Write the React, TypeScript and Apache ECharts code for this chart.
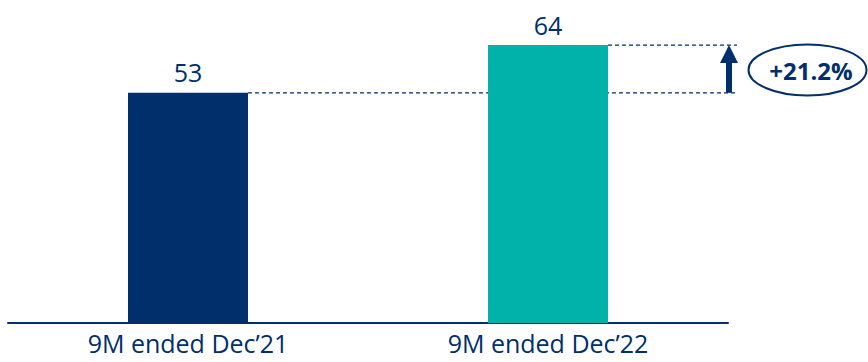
import React, { useEffect, useRef } from "react";
import * as echarts from "echarts";

const categories = ["9M ended Dec\u201921", "9M ended Dec\u201922"];
const values = [53, 64];
const barColors = ["#002f6c", "#00b2a9"];
const growthLabel = "+21.2%";

const NAVY = "#002f6c";
const FONT = "'Open Sans', 'Noto Sans', sans-serif";

export default function App() {
  const ref = useRef<HTMLDivElement>(null);

  useEffect(() => {
    if (!ref.current) return;
    const chart = echarts.init(ref.current, undefined, { renderer: "svg" });
    chart.setOption({
      animation: false,
      grid: { left: 8, right: 140, top: 19, bottom: 39, containLabel: false },
      xAxis: {
        type: "category",
        data: categories,
        axisLine: { lineStyle: { color: NAVY, width: 2 } },
        axisTick: { show: false },
        axisLabel: {
          color: NAVY,
          fontSize: 25,
          lineHeight: 25,
          fontFamily: FONT,
          margin: 7,
        },
      },
      yAxis: { type: "value", min: 0, max: 70, show: false, splitLine: { show: false } },
      series: [
        {
          type: "bar",
          barWidth: 120,
          data: values.map((v, i) => ({ value: v, itemStyle: { color: barColors[i] } })),
          label: {
            show: true,
            position: "top",
            distance: 8,
            color: NAVY,
            fontSize: 25,
            fontFamily: FONT,
          },
        },
      ],
    });

    // Reference lines, arrow and growth badge placed from the axis scales
    const p0 = chart.convertToPixel({ gridIndex: 0 }, [0, values[0]]) as number[];
    const p1 = chart.convertToPixel({ gridIndex: 0 }, [1, values[1]]) as number[];
    const half = 60;
    const lineEnd = 737;
    const arrowX = 729;
    const dash = { stroke: NAVY, lineWidth: 1.2, lineDash: [4, 3] };
    const headH = 18;
    const midY = (p0[1] + p1[1]) / 2;
    chart.setOption({
      graphic: [
        { type: "line", shape: { x1: p0[0] + half, y1: p0[1], x2: lineEnd, y2: p0[1] }, style: dash },
        { type: "line", shape: { x1: p1[0] + half, y1: p1[1], x2: lineEnd, y2: p1[1] }, style: dash },
        {
          type: "rect",
          shape: { x: arrowX - 3, y: p1[1] + headH - 1, width: 6, height: p0[1] - p1[1] - headH + 1 },
          style: { fill: NAVY },
        },
        {
          type: "polygon",
          shape: { points: [[arrowX, p1[1]], [arrowX - 9, p1[1] + headH], [arrowX + 9, p1[1] + headH]] },
          style: { fill: NAVY },
        },
        {
          type: "ellipse",
          shape: { cx: 807.5, cy: midY + 1, rx: 59, ry: 25.5 },
          style: { fill: "#fff", stroke: NAVY, lineWidth: 2 },
        },
        {
          type: "text",
          x: 811,
          y: midY + 2,
          style: {
            text: growthLabel,
            fill: NAVY,
            font: `bold 24px ${FONT}`,
            align: "center",
            verticalAlign: "middle",
          },
        },
      ],
    });

    return () => chart.dispose();
  }, []);

  return <div ref={ref} style={{ width: 868, height: 362, position: "absolute", left: 0, top: 0 }} />;
}
